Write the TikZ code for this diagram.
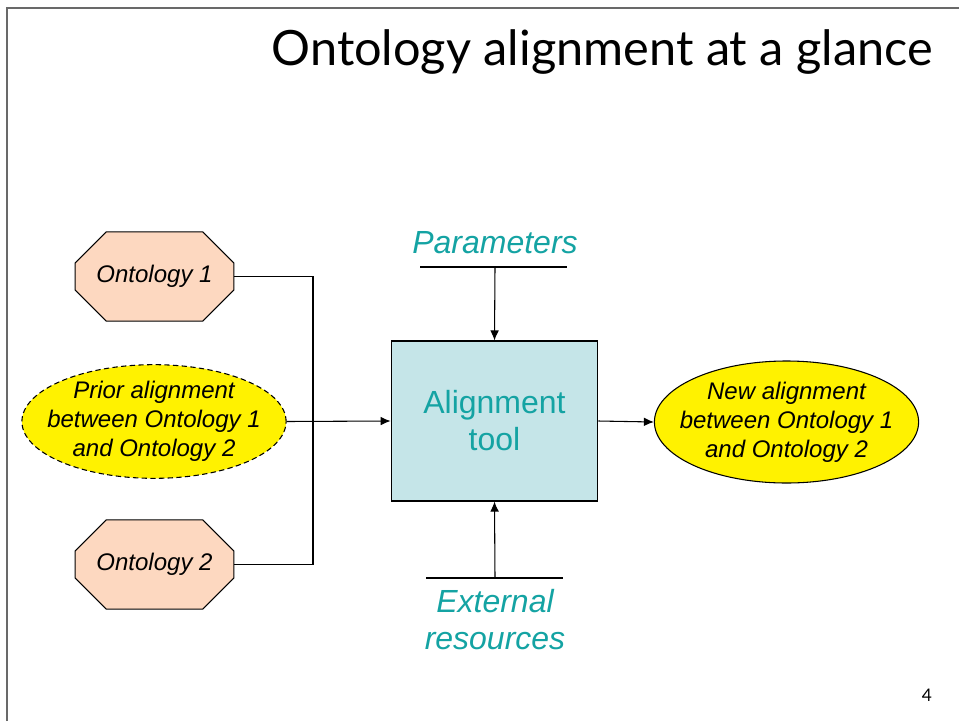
\documentclass[tikz,border=0pt]{standalone}
\usepackage{fontspec}
\setmainfont{Liberation Sans}
\newfontfamily\titlefont{Lato}
\usetikzlibrary{shapes.misc,shapes.geometric,positioning,arrows.meta}

\definecolor{ontopeach}{RGB}{253,216,192}
\definecolor{toolcyan}{RGB}{197,229,232}
\definecolor{tealtext}{RGB}{20,163,163}
\definecolor{framegray}{RGB}{105,105,105}

\begin{document}
\begin{tikzpicture}[x=0.75pt,y=-0.75pt, line width=0.8pt, >={Latex[length=7.5pt,width=6.5pt]},
		ontobox/.style={draw, fill=ontopeach, chamfered rectangle, chamfered rectangle xsep=15pt, chamfered rectangle ysep=15pt, minimum width=119pt, minimum height=67pt, inner sep=0pt, font=\fontsize{18}{21.75}\selectfont\itshape},
		alignell/.style={draw, ellipse, fill=yellow, inner xsep=-10pt, inner ysep=0pt, align=center, font=\fontsize{18}{21.75}\selectfont\itshape},
		tealtxt/.style={text=tealtext, align=center, font=\fontsize{24}{27.75}\selectfont\itshape}]
			\useasboundingbox (0,0) rectangle (959,721);
			\draw[framegray, line width=0.9pt] (7,721) -- (7,8) -- (959,8);
			\node[anchor=base east, font=\titlefont\fontsize{36.5}{42}\selectfont] (title) at (938,65){Ontology alignment at a glance};
			
			\node[draw, fill=toolcyan, minimum width=155pt, minimum height=120pt, align=center, text=tealtext, font=\fontsize{24}{27.75}\selectfont] (tool) at (494.5,421){Alignment\\tool};
			
			\node[ontobox] (onto1) at (154.5,276.5){Ontology 1};
			\node[ontobox] (onto2) at (154.5,564.5){Ontology 2};
			\node[alignell, dash pattern=on 4pt off 2.5pt, minimum width=198pt, minimum height=85pt] (prior) at (154,421.5){Prior alignment\\between Ontology 1\\and Ontology 2};
			\node[alignell, minimum width=197pt, minimum height=91.5pt] (newAlign) at (786.5,422){New alignment\\between Ontology 1\\and Ontology 2};
			
			\coordinate (join) at (313,421);
			\draw (onto1.east) -| (join);
			\draw (onto2.east) -| (join);
			\draw[->] (prior.east) -- (tool.west);
			\draw[->] (tool.east) -- (newAlign.west);
			
			\node[tealtxt] (params) at (495,243){Parameters};
			\coordinate (paramsBar) at (495,267);
			\draw (paramsBar) ++(-75,0) -- ++(147,0);
			\draw[->] (paramsBar) -- (tool.north);
			
			\coordinate (extBar) at (495,578);
			\draw (extBar) ++(-69,0) -- ++(137,0);
			\draw[->] (extBar) -- (tool.south);
			\node[tealtxt, below=5pt of extBar] (extRes){External\\resources};
			
			\node[font=\titlefont\fontsize{13}{15}\selectfont] (pageNo) at (927,695){4};
		\end{tikzpicture}
\end{document}
